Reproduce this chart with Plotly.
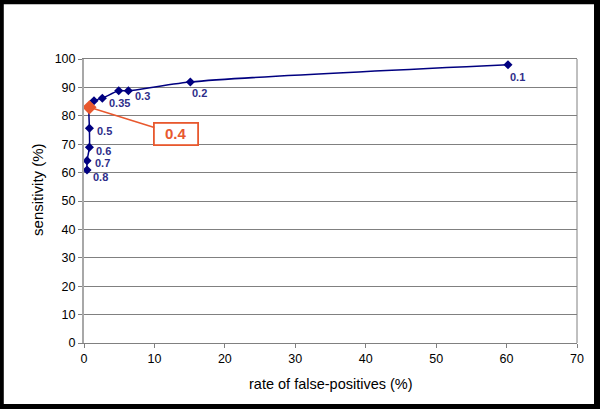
import plotly.graph_objects as go

# ROC points (ordered along the curve)
fpr = [0.43, 0.43, 0.77, 0.77, 0.77, 1.42, 2.6, 4.93, 6.3, 15.1, 60.2]
sens = [60.9, 64.2, 68.9, 75.6, 83.0, 85.3, 86.2, 88.8, 88.8, 91.9, 98.0]
thresholds = ["0.8", "0.7", "0.6", "0.5", "0.4", "", "0.35", "", "0.3", "0.2", "0.1"]
label_dx = [4, 6, 5, 6, 0, 0, 5, 0, 5, 0, 0]
label_dy = [7, 2, 4, 3, 0, 0, 5, 0, 5, 11, 12]
highlight = "0.4"

x_ticks = [0, 10, 20, 30, 40, 50, 60, 70]
y_ticks = [0, 10, 20, 30, 40, 50, 60, 70, 80, 90, 100]

NAVY = "#000080"
LABEL = "#2E2E8A"
ORANGE = "#E8582E"
FONT = "Arial, Liberation Sans, sans-serif"

fig = go.Figure()
fig.add_trace(go.Scatter(
    x=fpr, y=sens, mode="lines+markers",
    line=dict(color=NAVY, width=1.5, shape="spline", smoothing=0.8),
    marker=dict(symbol="diamond", size=7, color=NAVY),
    hoverinfo="x+y", showlegend=False))

hi = thresholds.index(highlight)
fig.add_trace(go.Scatter(
    x=[fpr[hi]], y=[sens[hi]], mode="markers",
    marker=dict(symbol="diamond", size=11, color=ORANGE),
    showlegend=False))

for xv, yv, t, dx, dy in zip(fpr, sens, thresholds, label_dx, label_dy):
    if not t or t == highlight:
        continue
    fig.add_annotation(x=xv, y=yv, text=t, showarrow=False,
                       xanchor="left", yanchor="middle",
                       xshift=dx, yshift=-dy,
                       font=dict(family=FONT, size=11, color=LABEL, weight="bold"))

fig.add_annotation(x=fpr[hi], y=sens[hi], text="<b>0.4</b>",
                   showarrow=True, arrowhead=0, arrowwidth=1.5, arrowcolor=ORANGE,
                   ax=87, ay=27, standoff=0, startstandoff=0,
                   bordercolor=ORANGE, borderwidth=1.8, borderpad=3,
                   bgcolor="white", width=36, height=14,
                   font=dict(family=FONT, size=15, color=ORANGE))

# axis titles
fig.add_annotation(xref="paper", yref="paper", x=0.5, y=0, yshift=-41,
                   text="rate of false-positives (%)", showarrow=False,
                   xanchor="center", yanchor="middle",
                   font=dict(family=FONT, size=14.5, color="black"))
fig.add_annotation(xref="paper", yref="paper", x=0, y=0.539, xshift=-46,
                   text="sensitivity (%)", showarrow=False, textangle=-90,
                   xanchor="center", yanchor="middle",
                   font=dict(family=FONT, size=15, color="black"))

# white page inside black frame
fig.add_shape(type="rect", xref="paper", yref="paper", layer="below",
              x0=-0.1627, x1=1.0345, y0=-0.2145, y1=1.1932,
              fillcolor="white", line=dict(width=0))
# right border of plot area
fig.add_shape(type="line", xref="paper", yref="paper", x0=1, x1=1, y0=0, y1=1,
              line=dict(color="#808080", width=1))

fig.update_layout(
    width=600, height=409,
    margin=dict(l=84, r=23, t=59, b=66, autoexpand=False),
    paper_bgcolor="black", plot_bgcolor="white",
    font=dict(family=FONT, size=12, color="black"),
    xaxis=dict(range=[0, 70], tickvals=x_ticks, showgrid=False, zeroline=False,
               showline=True, linecolor="#808080", linewidth=1, mirror=True,
               ticks="outside", ticklen=4, tickcolor="#808080",
               automargin=False, tickfont=dict(size=12.5)),
    yaxis=dict(range=[0, 100], tickvals=y_ticks, showgrid=True, gridcolor="#808080",
               gridwidth=1, zeroline=False,
               showline=True, linecolor="#A8A8A8", linewidth=2,
               ticks="outside", ticklen=4, tickcolor="#808080",
               automargin=False, tickfont=dict(size=12.5)),
)

fig.write_html("out.html",
               config={"displayModeBar": False},
               post_script="document.body.style.margin='0px';"
                           "document.body.style.background='black';")
